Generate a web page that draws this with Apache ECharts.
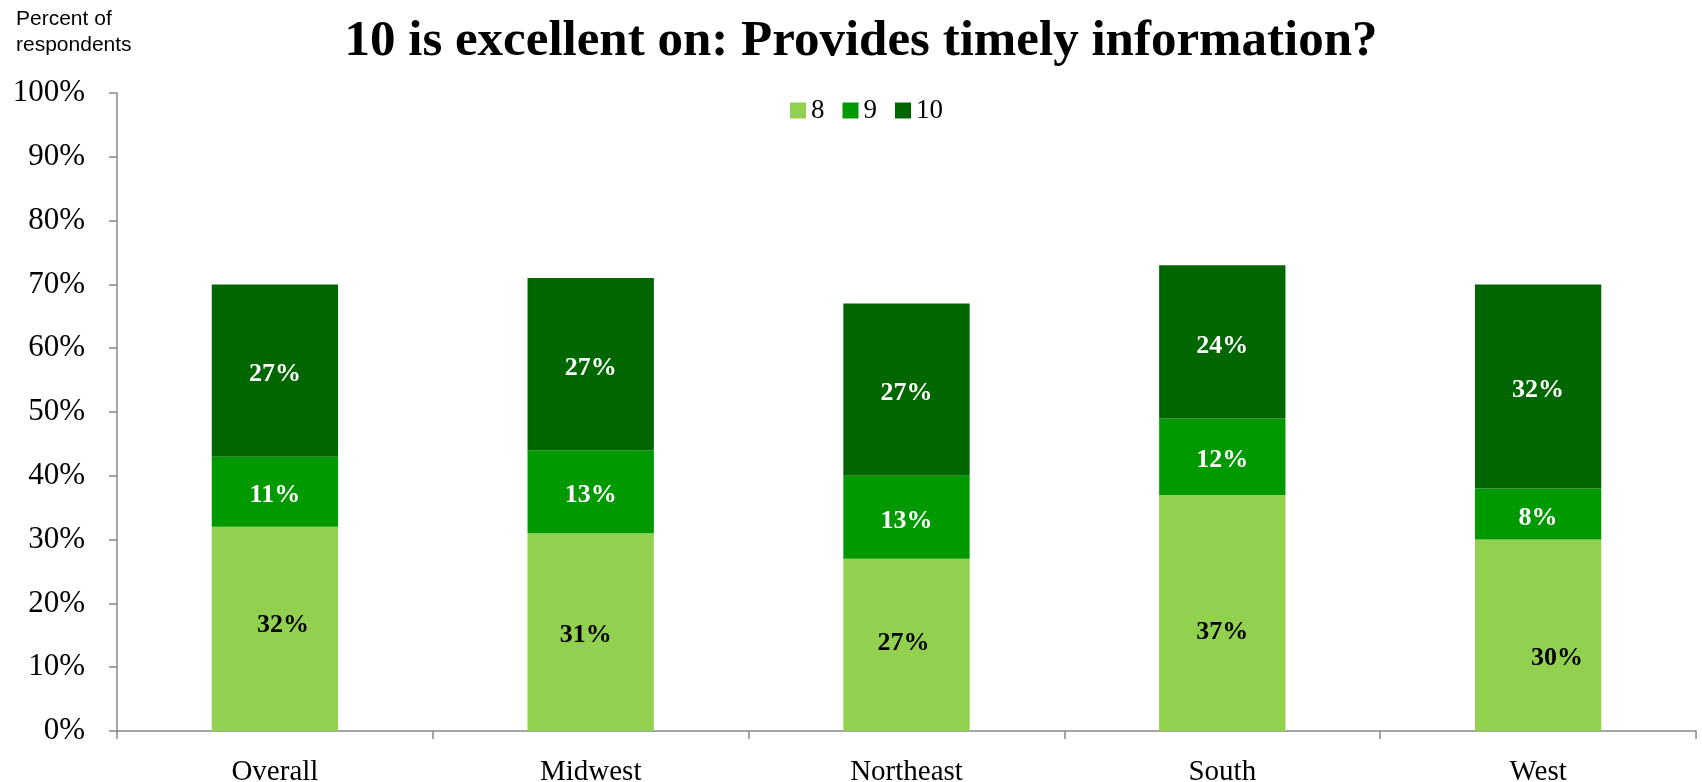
<!DOCTYPE html>
<html>
<head>
<meta charset="utf-8">
<script src="https://cdn.jsdelivr.net/npm/echarts@6/dist/echarts.min.js"></script>
<style>
  html, body { margin: 0; padding: 0; background: #ffffff; }
  #chart { width: 1702px; height: 782px; }
</style>
</head>
<body>
<div id="chart"></div>
<script>
// Survey results: share of respondents giving a score of 8, 9 or 10
const regions = ['Overall', 'Midwest', 'Northeast', 'South', 'West'];
const score8 = [32, 31, 27, 37, 30];
const score9 = [11, 13, 13, 12, 8];
const score10 = [27, 27, 27, 24, 32];
const seriesNames = ['8', '9', '10'];
const yTicks = { min: 0, max: 100, step: 10 };

// hand-placed label nudges for the lightest segment [dx, dy]
const score8LabelNudge = [[8, -4], [-5, 3], [-3, -2], [0, 19], [19, 23]];

const SERIF = '"Palatino Linotype", "Book Antiqua", Palatino, "Liberation Serif", "DejaVu Serif", serif';

const chart = echarts.init(document.getElementById('chart'), null, { renderer: 'canvas' });

function segment(name, values, color, textColor, nudges) {
  return {
    name: name,
    type: 'bar',
    stack: 'total',
    barWidth: '40%',
    itemStyle: { color: color },
    emphasis: { disabled: true },
    label: {
      show: true,
      position: 'inside',
      offset: [0, 4],
      formatter: p => p.value + '%',
      color: textColor,
      fontFamily: SERIF,
      fontWeight: 'bold',
      fontSize: 26
    },
    data: values.map((v, i) => nudges
      ? { value: v, label: { offset: nudges[i] } }
      : v)
  };
}

chart.setOption({
  animation: false,
  color: ['#92D050', '#009900', '#006600'],
  grid: { left: 117, right: 6, top: 93, bottom: 51, containLabel: false, outerBoundsMode: 'none' },
  legend: {
    data: seriesNames,
    top: 92,
    left: 785,
    itemWidth: 16,
    itemHeight: 16,
    itemGap: 18,
    icon: 'rect',
    textStyle: { fontFamily: SERIF, fontSize: 27, color: '#000' },
    selectedMode: false
  },
  graphic: [
    {
      type: 'text',
      left: 16,
      top: 6,
      style: {
        text: 'Percent of\nrespondents',
        font: '21px "Liberation Sans", Arial, sans-serif',
        fill: '#000',
        lineHeight: 26
      }
    },
    {
      type: 'text',
      x: 861,
      y: 42,
      style: {
        text: '10 is excellent on: Provides timely information?',
        font: 'bold 51px ' + SERIF,
        fill: '#000',
        align: 'center',
        verticalAlign: 'middle'
      }
    }
  ],
  xAxis: {
    type: 'category',
    data: regions,
    axisLine: { lineStyle: { color: '#888', width: 1.5 } },
    axisTick: { show: true, length: 8, lineStyle: { color: '#888', width: 1.5 } },
    axisLabel: { fontFamily: SERIF, fontSize: 29, color: '#000', margin: 27 }
  },
  yAxis: {
    type: 'value',
    min: yTicks.min,
    max: yTicks.max,
    interval: yTicks.step,
    splitLine: { show: false },
    axisLine: { show: true, lineStyle: { color: '#888', width: 1.5 } },
    axisTick: { show: true, length: 8, lineStyle: { color: '#888', width: 1.5 } },
    axisLabel: { formatter: '{value}%', fontFamily: SERIF, fontSize: 31, color: '#000', margin: 32 }
  },
  series: [
    segment(seriesNames[0], score8, '#92D050', '#000', score8LabelNudge),
    segment(seriesNames[1], score9, '#009900', '#fff'),
    segment(seriesNames[2], score10, '#006600', '#fff')
  ]
});
</script>
</body>
</html>
